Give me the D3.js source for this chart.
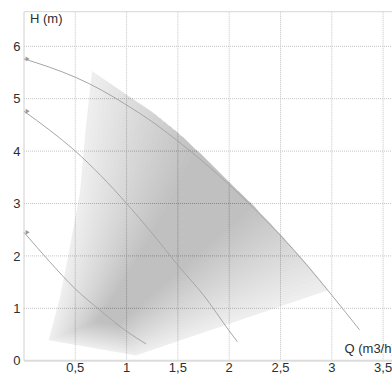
<!DOCTYPE html>
<html>
<head>
<meta charset="utf-8">
<title>Pump curves</title>
<script src="https://cdn.jsdelivr.net/npm/d3@7"></script>
<style>
  body { margin: 0; background: #fff; font-family: "Liberation Sans", Arial, sans-serif; }
  .grid line { stroke: #c4c4c4; stroke-width: 1; stroke-dasharray: 1,1; }
  .tick-label { font-size: 13px; fill: #2e2e2e; }
  .axis-title { font-size: 13px; fill: #2e2e2e; }
  .curve { fill: none; stroke: #a6a6a6; stroke-width: 1; }
</style>
</head>
<body>
<svg width="392" height="374"></svg>
<script>
// tick positions and labels
var xTicks = [0.5, 1, 1.5, 2, 2.5, 3, 3.5];
var xTickLabels = ["0,5", "1", "1,5", "2", "2,5", "3", "3,5"];
var yTicks = [0, 1, 2, 3, 4, 5, 6];
var yTickLabels = ["0", "1", "2", "3", "4", "5", "6"];

// pump curves (Q m3/h, H m)
var curveQ1 = [0, 0.25, 0.5, 0.75, 1, 1.25, 1.5, 1.75, 2, 2.25, 2.5, 2.75, 3, 3.27];
var curveH1 = [5.76, 5.60, 5.41, 5.17, 4.88, 4.56, 4.19, 3.79, 3.36, 2.89, 2.39, 1.84, 1.25, 0.59];
var curveQ2 = [0, 0.25, 0.5, 0.75, 1, 1.25, 1.5, 1.75, 2, 2.08];
var curveH2 = [4.76, 4.40, 4.00, 3.53, 3.00, 2.43, 1.82, 1.25, 0.57, 0.36];
var curveQ3 = [0, 0.25, 0.5, 0.75, 1, 1.19];
var curveH3 = [2.45, 1.89, 1.37, 0.95, 0.56, 0.32];

// operating region outline
var topEdgeQ = [0.663, 1.0, 1.25, 1.5, 1.75, 2.0, 2.25, 2.5, 2.75, 2.97];
var topEdgeH = [5.53, 5.08, 4.75, 4.36, 3.90, 3.42, 2.94, 2.42, 1.87, 1.35];
var leftEdgeQ = [0.24, 0.35, 0.44, 0.545, 0.60, 0.663];
var leftEdgeH = [0.39, 1.2, 2.1, 3.2, 4.4, 5.53];
var bottomVertex = [1.09, 0.10];
// darkest band of the shading runs between these two points
var spineTopQ = 2.0;
var spineBottom = [0.85, 0.85];

var svg = d3.select("svg");

var x = d3.scaleLinear().domain([0, 3.5]).range([24, 383.1]);
var y = d3.scaleLinear().domain([0, 6]).range([360.7, 46.3]);
var yTop = 6.66;

// grid
var grid = svg.append("g").attr("class", "grid");
grid.selectAll(".vgrid")
    .data(xTicks)
    .enter().append("line")
    .attr("x1", function (d) { return x(d); })
    .attr("x2", function (d) { return x(d); })
    .attr("y1", y(yTop))
    .attr("y2", y(0));
grid.selectAll(".hgrid")
    .data(yTicks.slice(1))
    .enter().append("line")
    .attr("x1", x(0))
    .attr("x2", 392)
    .attr("y1", function (d) { return y(d); })
    .attr("y2", function (d) { return y(d); });

// frame
svg.append("line")
    .attr("x1", x(0)).attr("x2", 392)
    .attr("y1", y(yTop)).attr("y2", y(yTop))
    .style("stroke", "#d6d6d6");
svg.append("line")
    .attr("x1", x(0)).attr("x2", x(0))
    .attr("y1", y(yTop)).attr("y2", y(0))
    .style("stroke", "#d0d0d0");
svg.append("line")
    .attr("x1", x(0)).attr("x2", 392)
    .attr("y1", y(0)).attr("y2", y(0))
    .style("stroke", "#dcdcdc")
    .style("stroke-width", 2);

// shaded region: stack of polygons shrinking toward the spine
var topLine = d3.scaleLinear().domain(topEdgeQ).range(topEdgeH);
var qA = topEdgeQ[0], qC = topEdgeQ[topEdgeQ.length - 1];
var spineTop = [spineTopQ, topLine(spineTopQ)];

function lerp(a, b, t) { return a + (b - a) * t; }

function layer(t) {
    var pts = [];
    var qa = lerp(qA, spineTopQ, t), qc = lerp(qC, spineTopQ, t);
    pts.push([qa, topLine(qa)]);
    topEdgeQ.forEach(function (q, i) {
        if (q > qa && q < qc) pts.push([q, topEdgeH[i]]);
    });
    pts.push([qc, topLine(qc)]);
    pts.push([lerp(bottomVertex[0], spineBottom[0], t), lerp(bottomVertex[1], spineBottom[1], t)]);
    var n = leftEdgeQ.length;
    for (var i = 0; i < n - 1; i++) {
        var f = i / (n - 1);
        var sq = lerp(spineBottom[0], spineTop[0], f), sh = lerp(spineBottom[1], spineTop[1], f);
        pts.push([lerp(leftEdgeQ[i], sq, t), lerp(leftEdgeH[i], sh, t)]);
    }
    return pts;
}

var nLayers = 24;
var shrink = 0.78;
var layers = d3.range(nLayers).map(function (k) { return layer(shrink * k / nLayers); });

var area = d3.line()
    .x(function (d) { return x(d[0]); })
    .y(function (d) { return y(d[1]); });

svg.append("g").selectAll("path")
    .data(layers)
    .enter().append("path")
    .attr("d", function (d) { return area(d) + "Z"; })
    .attr("fill", "#000")
    .attr("fill-opacity", function (d, i) { return i == 0 ? 0.065 : 0.0092; });

// pump curves
var curves = [
    d3.zip(curveQ1, curveH1),
    d3.zip(curveQ2, curveH2),
    d3.zip(curveQ3, curveH3)
];
var line = d3.line()
    .x(function (d) { return x(d[0]); })
    .y(function (d) { return y(d[1]); })
    .curve(d3.curveMonotoneX);

svg.selectAll(".curve")
    .data(curves)
    .enter().append("path")
    .attr("class", "curve")
    .attr("d", line);

// little start markers
svg.selectAll(".marker")
    .data(curves)
    .enter().append("path")
    .attr("class", "marker")
    .attr("d", d3.symbol().type(d3.symbolTriangle).size(10))
    .attr("transform", function (d) {
        return "translate(" + (x(d[0][0]) + 3) + "," + y(d[0][1]) + ") rotate(90)";
    })
    .attr("fill", "#999");

// tick labels
svg.selectAll(".xlab")
    .data(xTicks)
    .enter().append("text")
    .attr("class", "tick-label")
    .attr("x", function (d) { return x(d); })
    .attr("y", 372)
    .attr("text-anchor", "middle")
    .text(function (d, i) { return xTickLabels[i]; });

svg.selectAll(".ylab")
    .data(yTicks)
    .enter().append("text")
    .attr("class", "tick-label")
    .attr("x", 20.5)
    .attr("y", function (d) { return y(d); })
    .attr("dy", "0.36em")
    .attr("text-anchor", "end")
    .text(function (d, i) { return yTickLabels[i]; });

svg.append("text")
    .attr("class", "axis-title")
    .attr("x", 30)
    .attr("y", 23)
    .text("H (m)");

svg.append("text")
    .attr("class", "axis-title")
    .attr("x", 344.5)
    .attr("y", 353)
    .text("Q (m3/h)");
</script>
</body>
</html>
